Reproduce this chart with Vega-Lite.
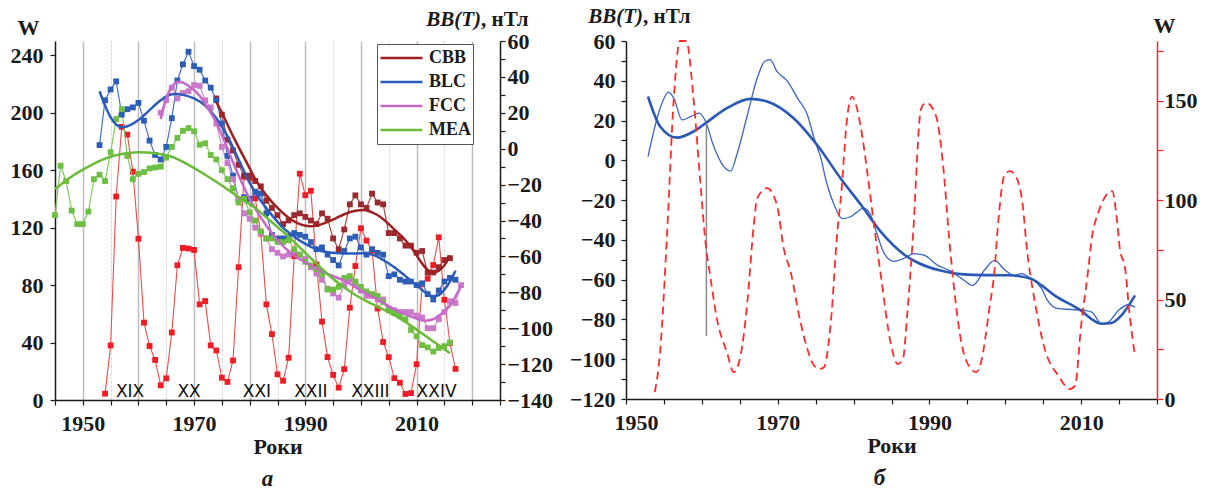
{
  "$schema": "https://vega.github.io/schema/vega-lite/v6.json",
  "autosize": {"type": "pad"},
  "padding": {"left": 10, "top": 6, "right": 5, "bottom": 2},
  "background": "white",
  "spacing": 126,
  "bounds": "flush",
  "datasets": {
    "ss": [
      {"year":1954,"w":4.4},{"year":1955,"w":38.0},{"year":1956,"w":141.7},{"year":1957,"w":190.2},{"year":1958,"w":184.8},{"year":1959,"w":159.0},{"year":1960,"w":112.3},{"year":1961,"w":53.9},{"year":1962,"w":37.6},{"year":1963,"w":27.9},{"year":1964,"w":10.2},{"year":1965,"w":15.1},{"year":1966,"w":47.0},{"year":1967,"w":93.8},{"year":1968,"w":105.9},{"year":1969,"w":105.5},{"year":1970,"w":104.5},{"year":1971,"w":66.6},{"year":1972,"w":68.9},{"year":1973,"w":38.0},{"year":1974,"w":34.5},{"year":1975,"w":15.5},{"year":1976,"w":12.6},{"year":1977,"w":27.5},{"year":1978,"w":92.5},{"year":1979,"w":155.4},{"year":1980,"w":154.6},{"year":1981,"w":140.4},{"year":1982,"w":115.9},{"year":1983,"w":66.6},{"year":1984,"w":45.9},{"year":1985,"w":17.9},{"year":1986,"w":13.4},{"year":1987,"w":29.4},{"year":1988,"w":100.2},{"year":1989,"w":157.6},{"year":1990,"w":142.6},{"year":1991,"w":145.7},{"year":1992,"w":94.3},{"year":1993,"w":54.6},{"year":1994,"w":29.9},{"year":1995,"w":17.5},{"year":1996,"w":8.6},{"year":1997,"w":21.5},{"year":1998,"w":64.3},{"year":1999,"w":93.3},{"year":2000,"w":119.6},{"year":2001,"w":111.0},{"year":2002,"w":104.0},{"year":2003,"w":63.7},{"year":2004,"w":40.4},{"year":2005,"w":29.8},{"year":2006,"w":15.2},{"year":2007,"w":12.0},{"year":2008,"w":4.2},{"year":2009,"w":4.8},{"year":2010,"w":24.9},{"year":2011,"w":80.8},{"year":2012,"w":84.5},{"year":2013,"w":94.0},{"year":2014,"w":113.3},{"year":2015,"w":69.8},{"year":2016,"w":39.8},{"year":2017,"w":21.7}
    ],
    "cyc": [
      {"c":"XIX","year":1958.5},{"c":"XX","year":1969.1},{"c":"XXI","year":1981.3},{"c":"XXII","year":1991.0},{"c":"XXIII","year":2001.7},{"c":"XXIV","year":2013.6}
    ],
    "obs": [
      {"year":1974,"s":"CBB","v":28},{"year":1975,"s":"CBB","v":19},{"year":1976,"s":"CBB","v":5},{"year":1977,"s":"CBB","v":-1},{"year":1978,"s":"CBB","v":-9},{"year":1979,"s":"CBB","v":-15},{"year":1980,"s":"CBB","v":-15},{"year":1981,"s":"CBB","v":-18},{"year":1982,"s":"CBB","v":-21},{"year":1983,"s":"CBB","v":-29},{"year":1984,"s":"CBB","v":-33},{"year":1985,"s":"CBB","v":-37},{"year":1986,"s":"CBB","v":-42},{"year":1987,"s":"CBB","v":-40},{"year":1988,"s":"CBB","v":-37},{"year":1989,"s":"CBB","v":-36},{"year":1990,"s":"CBB","v":-38},{"year":1991,"s":"CBB","v":-40},{"year":1992,"s":"CBB","v":-42},{"year":1993,"s":"CBB","v":-36},{"year":1994,"s":"CBB","v":-39},{"year":1995,"s":"CBB","v":-50},{"year":1996,"s":"CBB","v":-56},{"year":1997,"s":"CBB","v":-45},{"year":1998,"s":"CBB","v":-31},{"year":1999,"s":"CBB","v":-26},{"year":2000,"s":"CBB","v":-31},{"year":2001,"s":"CBB","v":-33},{"year":2002,"s":"CBB","v":-25},{"year":2003,"s":"CBB","v":-30},{"year":2004,"s":"CBB","v":-31},{"year":2005,"s":"CBB","v":-47},{"year":2006,"s":"CBB","v":-47},{"year":2007,"s":"CBB","v":-50},{"year":2008,"s":"CBB","v":-54},{"year":2009,"s":"CBB","v":-54},{"year":2010,"s":"CBB","v":-58},{"year":2011,"s":"CBB","v":-57},{"year":2012,"s":"CBB","v":-69},{"year":2013,"s":"CBB","v":-69},{"year":2014,"s":"CBB","v":-66},{"year":2015,"s":"CBB","v":-62},{"year":2016,"s":"CBB","v":-61},
      {"year":1953,"s":"BLC","v":2},{"year":1954,"s":"BLC","v":27},{"year":1955,"s":"BLC","v":33},{"year":1956,"s":"BLC","v":37.5},{"year":1957,"s":"BLC","v":19},{"year":1958,"s":"BLC","v":22},{"year":1959,"s":"BLC","v":23},{"year":1960,"s":"BLC","v":25.5},{"year":1961,"s":"BLC","v":15.6},{"year":1962,"s":"BLC","v":4.5},{"year":1963,"s":"BLC","v":-3.5},{"year":1964,"s":"BLC","v":-6},{"year":1965,"s":"BLC","v":1},{"year":1966,"s":"BLC","v":17},{"year":1967,"s":"BLC","v":38},{"year":1968,"s":"BLC","v":47},{"year":1969,"s":"BLC","v":54},{"year":1970,"s":"BLC","v":46},{"year":1971,"s":"BLC","v":44},{"year":1972,"s":"BLC","v":38},{"year":1973,"s":"BLC","v":34},{"year":1974,"s":"BLC","v":27},{"year":1975,"s":"BLC","v":14},{"year":1976,"s":"BLC","v":-4},{"year":1977,"s":"BLC","v":-15},{"year":1978,"s":"BLC","v":-28},{"year":1979,"s":"BLC","v":-27},{"year":1980,"s":"BLC","v":-28},{"year":1981,"s":"BLC","v":-24},{"year":1982,"s":"BLC","v":-25},{"year":1983,"s":"BLC","v":-36},{"year":1984,"s":"BLC","v":-48},{"year":1985,"s":"BLC","v":-50},{"year":1986,"s":"BLC","v":-50},{"year":1987,"s":"BLC","v":-49},{"year":1988,"s":"BLC","v":-47},{"year":1989,"s":"BLC","v":-48},{"year":1990,"s":"BLC","v":-49},{"year":1991,"s":"BLC","v":-52},{"year":1992,"s":"BLC","v":-56},{"year":1993,"s":"BLC","v":-55},{"year":1994,"s":"BLC","v":-59},{"year":1995,"s":"BLC","v":-62},{"year":1996,"s":"BLC","v":-65},{"year":1997,"s":"BLC","v":-57},{"year":1998,"s":"BLC","v":-50},{"year":1999,"s":"BLC","v":-49},{"year":2000,"s":"BLC","v":-55},{"year":2001,"s":"BLC","v":-59},{"year":2002,"s":"BLC","v":-56},{"year":2003,"s":"BLC","v":-58},{"year":2004,"s":"BLC","v":-59},{"year":2005,"s":"BLC","v":-71},{"year":2006,"s":"BLC","v":-70},{"year":2007,"s":"BLC","v":-73},{"year":2008,"s":"BLC","v":-74},{"year":2009,"s":"BLC","v":-74},{"year":2010,"s":"BLC","v":-76},{"year":2011,"s":"BLC","v":-75},{"year":2012,"s":"BLC","v":-81},{"year":2013,"s":"BLC","v":-84},{"year":2014,"s":"BLC","v":-79},{"year":2015,"s":"BLC","v":-74},{"year":2016,"s":"BLC","v":-72},{"year":2017,"s":"BLC","v":-73},
      {"year":1964,"s":"FCC","v":20},{"year":1965,"s":"FCC","v":27},{"year":1966,"s":"FCC","v":34},{"year":1967,"s":"FCC","v":28},{"year":1968,"s":"FCC","v":31},{"year":1969,"s":"FCC","v":32},{"year":1970,"s":"FCC","v":35.5},{"year":1971,"s":"FCC","v":35},{"year":1972,"s":"FCC","v":27},{"year":1973,"s":"FCC","v":23},{"year":1974,"s":"FCC","v":14},{"year":1975,"s":"FCC","v":1},{"year":1976,"s":"FCC","v":-8},{"year":1977,"s":"FCC","v":-17},{"year":1978,"s":"FCC","v":-28},{"year":1979,"s":"FCC","v":-36},{"year":1980,"s":"FCC","v":-39},{"year":1981,"s":"FCC","v":-44},{"year":1982,"s":"FCC","v":-47},{"year":1983,"s":"FCC","v":-50},{"year":1984,"s":"FCC","v":-56},{"year":1985,"s":"FCC","v":-58},{"year":1986,"s":"FCC","v":-60},{"year":1987,"s":"FCC","v":-59},{"year":1988,"s":"FCC","v":-57},{"year":1989,"s":"FCC","v":-59},{"year":1990,"s":"FCC","v":-61.5},{"year":1991,"s":"FCC","v":-66},{"year":1992,"s":"FCC","v":-69.5},{"year":1993,"s":"FCC","v":-73},{"year":1994,"s":"FCC","v":-78},{"year":1995,"s":"FCC","v":-80.6},{"year":1996,"s":"FCC","v":-83},{"year":1997,"s":"FCC","v":-76},{"year":1998,"s":"FCC","v":-73},{"year":1999,"s":"FCC","v":-75},{"year":2000,"s":"FCC","v":-79},{"year":2001,"s":"FCC","v":-82},{"year":2002,"s":"FCC","v":-82},{"year":2003,"s":"FCC","v":-84},{"year":2004,"s":"FCC","v":-84},{"year":2005,"s":"FCC","v":-89},{"year":2006,"s":"FCC","v":-90},{"year":2007,"s":"FCC","v":-91},{"year":2008,"s":"FCC","v":-91},{"year":2009,"s":"FCC","v":-91},{"year":2010,"s":"FCC","v":-93},{"year":2011,"s":"FCC","v":-94},{"year":2012,"s":"FCC","v":-100},{"year":2013,"s":"FCC","v":-100},{"year":2014,"s":"FCC","v":-95},{"year":2015,"s":"FCC","v":-91},{"year":2016,"s":"FCC","v":-85},{"year":2017,"s":"FCC","v":-86},{"year":2018,"s":"FCC","v":-76},
      {"year":1945,"s":"MEA","v":-37},{"year":1946,"s":"MEA","v":-9.5},{"year":1947,"s":"MEA","v":-18},{"year":1948,"s":"MEA","v":-34.5},{"year":1949,"s":"MEA","v":-42},{"year":1950,"s":"MEA","v":-42},{"year":1951,"s":"MEA","v":-35},{"year":1952,"s":"MEA","v":-17},{"year":1953,"s":"MEA","v":-14.5},{"year":1954,"s":"MEA","v":-18},{"year":1955,"s":"MEA","v":-2},{"year":1956,"s":"MEA","v":16.5},{"year":1957,"s":"MEA","v":22},{"year":1958,"s":"MEA","v":-4},{"year":1959,"s":"MEA","v":-17},{"year":1960,"s":"MEA","v":-14},{"year":1961,"s":"MEA","v":-13},{"year":1962,"s":"MEA","v":-11},{"year":1963,"s":"MEA","v":-10.5},{"year":1964,"s":"MEA","v":-10},{"year":1965,"s":"MEA","v":-5},{"year":1966,"s":"MEA","v":1},{"year":1967,"s":"MEA","v":6},{"year":1968,"s":"MEA","v":10},{"year":1969,"s":"MEA","v":11.5},{"year":1970,"s":"MEA","v":9.7},{"year":1971,"s":"MEA","v":2.2},{"year":1972,"s":"MEA","v":3},{"year":1973,"s":"MEA","v":-3.5},{"year":1974,"s":"MEA","v":-6},{"year":1975,"s":"MEA","v":-12},{"year":1976,"s":"MEA","v":-17},{"year":1977,"s":"MEA","v":-22},{"year":1978,"s":"MEA","v":-30},{"year":1979,"s":"MEA","v":-28},{"year":1980,"s":"MEA","v":-35.5},{"year":1981,"s":"MEA","v":-40},{"year":1982,"s":"MEA","v":-46},{"year":1983,"s":"MEA","v":-50},{"year":1984,"s":"MEA","v":-50},{"year":1985,"s":"MEA","v":-52},{"year":1986,"s":"MEA","v":-52},{"year":1987,"s":"MEA","v":-51},{"year":1988,"s":"MEA","v":-56},{"year":1989,"s":"MEA","v":-59},{"year":1990,"s":"MEA","v":-63},{"year":1991,"s":"MEA","v":-65},{"year":1992,"s":"MEA","v":-67},{"year":1993,"s":"MEA","v":-70},{"year":1994,"s":"MEA","v":-78.5},{"year":1995,"s":"MEA","v":-78.5},{"year":1996,"s":"MEA","v":-77},{"year":1997,"s":"MEA","v":-72},{"year":1998,"s":"MEA","v":-71},{"year":1999,"s":"MEA","v":-74},{"year":2000,"s":"MEA","v":-77},{"year":2001,"s":"MEA","v":-79.5},{"year":2002,"s":"MEA","v":-81},{"year":2003,"s":"MEA","v":-82},{"year":2004,"s":"MEA","v":-85.5},{"year":2005,"s":"MEA","v":-90},{"year":2006,"s":"MEA","v":-91.5},{"year":2007,"s":"MEA","v":-93},{"year":2008,"s":"MEA","v":-95},{"year":2009,"s":"MEA","v":-101},{"year":2010,"s":"MEA","v":-104.5},{"year":2011,"s":"MEA","v":-109.4},{"year":2012,"s":"MEA","v":-110.7},{"year":2013,"s":"MEA","v":-113},{"year":2014,"s":"MEA","v":-111},{"year":2015,"s":"MEA","v":-110},{"year":2016,"s":"MEA","v":-108}
    ],
    "sm": [
      {"year":1974,"s":"CBB","v":26},{"year":1975,"s":"CBB","v":20},{"year":1977,"s":"CBB","v":7},{"year":1979,"s":"CBB","v":-5},{"year":1980,"s":"CBB","v":-11},{"year":1981,"s":"CBB","v":-17},{"year":1983,"s":"CBB","v":-26},{"year":1985,"s":"CBB","v":-33},{"year":1987,"s":"CBB","v":-38.5},{"year":1989,"s":"CBB","v":-42},{"year":1991,"s":"CBB","v":-43.2},{"year":1993,"s":"CBB","v":-42},{"year":1995,"s":"CBB","v":-39.5},{"year":1997,"s":"CBB","v":-36.5},{"year":1999,"s":"CBB","v":-34.6},{"year":2000.5,"s":"CBB","v":-34.2},{"year":2002,"s":"CBB","v":-35.5},{"year":2003.5,"s":"CBB","v":-38},{"year":2005,"s":"CBB","v":-42},{"year":2006.5,"s":"CBB","v":-46.5},{"year":2008,"s":"CBB","v":-51},{"year":2009.5,"s":"CBB","v":-57},{"year":2011,"s":"CBB","v":-64},{"year":2012,"s":"CBB","v":-67.5},{"year":2013,"s":"CBB","v":-69},{"year":2014,"s":"CBB","v":-68},{"year":2015,"s":"CBB","v":-65},{"year":2016,"s":"CBB","v":-59.5},
      {"year":1953,"s":"BLC","v":32},{"year":1954,"s":"BLC","v":24},{"year":1955,"s":"BLC","v":17.5},{"year":1956,"s":"BLC","v":13.5},{"year":1957,"s":"BLC","v":12},{"year":1958,"s":"BLC","v":12.5},{"year":1960,"s":"BLC","v":16},{"year":1962,"s":"BLC","v":21.5},{"year":1964,"s":"BLC","v":27},{"year":1966,"s":"BLC","v":30.3},{"year":1967,"s":"BLC","v":30.5},{"year":1968,"s":"BLC","v":30},{"year":1970,"s":"BLC","v":28},{"year":1972,"s":"BLC","v":24},{"year":1974,"s":"BLC","v":17},{"year":1976,"s":"BLC","v":7},{"year":1978,"s":"BLC","v":-6},{"year":1980,"s":"BLC","v":-19},{"year":1982,"s":"BLC","v":-29},{"year":1984,"s":"BLC","v":-37},{"year":1986,"s":"BLC","v":-44},{"year":1988,"s":"BLC","v":-49},{"year":1990,"s":"BLC","v":-53},{"year":1992,"s":"BLC","v":-56},{"year":1994,"s":"BLC","v":-57.7},{"year":1996,"s":"BLC","v":-58.2},{"year":1998,"s":"BLC","v":-58.4},{"year":2000,"s":"BLC","v":-58.3},{"year":2002,"s":"BLC","v":-59},{"year":2004,"s":"BLC","v":-62},{"year":2006,"s":"BLC","v":-66},{"year":2008,"s":"BLC","v":-71},{"year":2010,"s":"BLC","v":-76},{"year":2012,"s":"BLC","v":-81},{"year":2013,"s":"BLC","v":-82.2},{"year":2014,"s":"BLC","v":-81.5},{"year":2015,"s":"BLC","v":-78.5},{"year":2016,"s":"BLC","v":-74},{"year":2017,"s":"BLC","v":-68},
      {"year":1964,"s":"FCC","v":16.5},{"year":1965,"s":"FCC","v":28},{"year":1966,"s":"FCC","v":34.5},{"year":1967.4,"s":"FCC","v":37.3},{"year":1969,"s":"FCC","v":35},{"year":1971,"s":"FCC","v":29.5},{"year":1972.5,"s":"FCC","v":22.5},{"year":1974,"s":"FCC","v":14.7},{"year":1977,"s":"FCC","v":-7.6},{"year":1980,"s":"FCC","v":-28},{"year":1983,"s":"FCC","v":-42.9},{"year":1985,"s":"FCC","v":-51},{"year":1988,"s":"FCC","v":-59.5},{"year":1991,"s":"FCC","v":-65},{"year":1994,"s":"FCC","v":-69.8},{"year":1997,"s":"FCC","v":-73.5},{"year":2000,"s":"FCC","v":-79},{"year":2003,"s":"FCC","v":-84},{"year":2006,"s":"FCC","v":-89.5},{"year":2009,"s":"FCC","v":-93.5},{"year":2011.5,"s":"FCC","v":-95.8},{"year":2013,"s":"FCC","v":-95},{"year":2014,"s":"FCC","v":-93},{"year":2016,"s":"FCC","v":-87.5},{"year":2018,"s":"FCC","v":-76.3},
      {"year":1945,"s":"MEA","v":-22.5},{"year":1948,"s":"MEA","v":-15.5},{"year":1951,"s":"MEA","v":-10},{"year":1954,"s":"MEA","v":-5.5},{"year":1957,"s":"MEA","v":-3},{"year":1960,"s":"MEA","v":-2},{"year":1963,"s":"MEA","v":-2.5},{"year":1966,"s":"MEA","v":-4.5},{"year":1969,"s":"MEA","v":-9},{"year":1972,"s":"MEA","v":-14.5},{"year":1975,"s":"MEA","v":-20.5},{"year":1978,"s":"MEA","v":-27},{"year":1981,"s":"MEA","v":-33},{"year":1984,"s":"MEA","v":-41},{"year":1987,"s":"MEA","v":-49},{"year":1990,"s":"MEA","v":-58},{"year":1993,"s":"MEA","v":-67},{"year":1996,"s":"MEA","v":-75},{"year":1999,"s":"MEA","v":-81.5},{"year":2002,"s":"MEA","v":-86.5},{"year":2005,"s":"MEA","v":-91},{"year":2008,"s":"MEA","v":-96.5},{"year":2011,"s":"MEA","v":-103},{"year":2014,"s":"MEA","v":-109.5},{"year":2016,"s":"MEA","v":-114}
    ],
    "rw": [
      {"year":1953.8,"w":3.5},{"year":1954.5,"w":23.7},{"year":1955.4,"w":82},{"year":1956.3,"w":151},{"year":1957.1,"w":180},{"year":1957.95,"w":180},{"year":1958.9,"w":151},{"year":1959.8,"w":109},{"year":1960.5,"w":78},{"year":1961.1,"w":62},{"year":1962,"w":40},{"year":1963.3,"w":23.5},{"year":1964.2,"w":13.5},{"year":1965.1,"w":21.8},{"year":1966,"w":48.8},{"year":1966.8,"w":85.7},{"year":1967.3,"w":100.9},{"year":1968.6,"w":106},{"year":1969.9,"w":97.5},{"year":1970.8,"w":75.6},{"year":1971.7,"w":64},{"year":1973,"w":38.7},{"year":1974.8,"w":16.8},{"year":1975.4,"w":15.1},{"year":1976.1,"w":16},{"year":1977,"w":38.7},{"year":1977.9,"w":85.7},{"year":1978.3,"w":100},{"year":1979.2,"w":142.9},{"year":1979.8,"w":152},{"year":1980.9,"w":137.8},{"year":1981.8,"w":114.3},{"year":1982.7,"w":87.4},{"year":1983.6,"w":62},{"year":1984.9,"w":28},{"year":1985.8,"w":17.6},{"year":1986.5,"w":20},{"year":1987.1,"w":43.7},{"year":1987.8,"w":80},{"year":1988.9,"w":146},{"year":1989.6,"w":149},{"year":1990.9,"w":142},{"year":1991.8,"w":117.6},{"year":1992.7,"w":76.5},{"year":1994.2,"w":28.6},{"year":1995.5,"w":15.1},{"year":1996.2,"w":13.5},{"year":1996.8,"w":18.5},{"year":1997.9,"w":45.4},{"year":1998.6,"w":65.6},{"year":1999,"w":85.7},{"year":1999.9,"w":112.6},{"year":2000.6,"w":114.6},{"year":2001.5,"w":111},{"year":2002.3,"w":97.5},{"year":2002.8,"w":77.3},{"year":2003.9,"w":48.8},{"year":2005.2,"w":25.2},{"year":2007,"w":11.7},{"year":2008.5,"w":5},{"year":2009.2,"w":6.7},{"year":2010,"w":37},{"year":2010.9,"w":63.9},{"year":2011.4,"w":80.7},{"year":2012.3,"w":94.1},{"year":2014.1,"w":104.5},{"year":2014.7,"w":90.8},{"year":2015.1,"w":75.6},{"year":2015.8,"w":65.6},{"year":2016.4,"w":42},{"year":2017.1,"w":21.8}
    ],
    "rthin": [
      {"year":1952.9,"v":1.9},{"year":1954.5,"v":26.2},{"year":1955.6,"v":34.3},{"year":1956.3,"v":31.3},{"year":1957.4,"v":20.3},{"year":1958.5,"v":22},{"year":1959.6,"v":23.7},{"year":1960.5,"v":19.5},{"year":1961.5,"v":7.7},{"year":1962.9,"v":-3.2},{"year":1963.8,"v":-5.4},{"year":1964.6,"v":2.7},{"year":1966,"v":22.8},{"year":1967.3,"v":41.4},{"year":1968.3,"v":49.8},{"year":1969,"v":50.6},{"year":1969.9,"v":44.7},{"year":1971.3,"v":39.7},{"year":1972.6,"v":31.3},{"year":1973.9,"v":23},{"year":1974.8,"v":11.1},{"year":1975.7,"v":1},{"year":1976.3,"v":-9},{"year":1977.4,"v":-22},{"year":1978.5,"v":-29.3},{"year":1979.5,"v":-28.5},{"year":1980.5,"v":-25.9},{"year":1981.3,"v":-24},{"year":1982.2,"v":-27},{"year":1983,"v":-36},{"year":1984,"v":-46.5},{"year":1985.3,"v":-50.8},{"year":1986.5,"v":-49.5},{"year":1988,"v":-46.9},{"year":1989.3,"v":-47.7},{"year":1991.1,"v":-52.8},{"year":1992.6,"v":-55.3},{"year":1994.6,"v":-60.4},{"year":1995.7,"v":-62.9},{"year":1997.3,"v":-55},{"year":1998.6,"v":-50.3},{"year":1999.9,"v":-55},{"year":2001.2,"v":-57.8},{"year":2002.1,"v":-57},{"year":2003.4,"v":-59.5},{"year":2004.8,"v":-64.5},{"year":2005.5,"v":-70},{"year":2007,"v":-74.6},{"year":2008.7,"v":-75},{"year":2010.5,"v":-75.5},{"year":2011.4,"v":-76.3},{"year":2012.7,"v":-82.2},{"year":2013.6,"v":-81.3},{"year":2014.9,"v":-75.5},{"year":2016.2,"v":-72.6},{"year":2017.1,"v":-73.8}
    ],
    "rthick": [
      {"year":1952.9,"v":32.1},{"year":1954.5,"v":17},{"year":1956.7,"v":11.4},{"year":1958.9,"v":14.5},{"year":1960.5,"v":18.7},{"year":1963.3,"v":26.2},{"year":1966.4,"v":30.9},{"year":1968.6,"v":29.6},{"year":1972.1,"v":21.2},{"year":1975.2,"v":7.7},{"year":1978.3,"v":-9.1},{"year":1981,"v":-22.5},{"year":1983.6,"v":-36},{"year":1986.7,"v":-47.5},{"year":1991.3,"v":-55.3},{"year":1995.7,"v":-57.6},{"year":2000.5,"v":-57.8},{"year":2003.4,"v":-59.5},{"year":2004.8,"v":-62.9},{"year":2006.5,"v":-67.9},{"year":2009.6,"v":-74.6},{"year":2012.7,"v":-82.2},{"year":2014,"v":-81.8},{"year":2015.3,"v":-78},{"year":2017.1,"v":-67.9}
    ],
    "rrule": [{"year":1960.6,"v1":18.7,"v2":-88.3}]
  },
  "hconcat": [
    {
      "width": 445,
      "height": 359,
      "title": {"text": "а", "orient": "bottom", "anchor": "middle", "font": "Liberation Serif", "fontStyle": "italic", "fontWeight": "bold", "fontSize": 23, "offset": 11, "dx": -10, "color": "#1a1a1a"},
      "layer": [
        {
          "layer": [
            {
              "data": {"name": "ss"},
              "mark": {"type": "line", "color": "#f04a4a", "strokeWidth": 1.1},
              "encoding": {
                "x": {"field": "year", "type": "quantitative", "scale": {"domain": [1945, 2025], "nice": false, "zero": false},
                  "axis": {"orient": "bottom", "values": [1945,1950,1955,1960,1965,1970,1975,1980,1985,1990,1995,2000,2005,2010,2015,2020,2025],
                    "labels": false, "ticks": true, "tickSize": 5, "domain": true, "grid": false, "title": null}},
                "y": {"field": "w", "type": "quantitative", "scale": {"domain": [0, 250], "nice": false},
                  "axis": {"orient": "left", "values": [0,10,20,30,40,50,60,70,80,90,100,110,120,130,140,150,160,170,180,190,200,210,220,230,240,250],
                    "labelExpr": "datum.value % 40 == 0 ? datum.label : ''", "labelOverlap": false, "labelFlush": false, "tickSize": 5, "labelPadding": 7,
                    "title": "W", "titleAngle": 0, "titleX": -27, "titleY": -14, "titleAlign": "center", "titleBaseline": "middle"}}
              }
            },
            {
              "data": {"name": "ss"},
              "mark": {"type": "square", "size": 34, "color": "#ee1c25", "opacity": 1},
              "encoding": {
                "x": {"field": "year", "type": "quantitative",
                  "axis": {"orient": "bottom", "values": [1950, 1970, 1990, 2010], "format": "d", "labels": true, "ticks": false, "domain": false, "grid": false,
                    "labelPadding": 13, "labelOverlap": false, "labelFlush": false, "title": "Роки", "titlePadding": 2}},
                "y": {"field": "w", "type": "quantitative"}
              }
            },
            {
              "data": {"name": "cyc"},
              "mark": {"type": "text", "font": "DejaVu Sans", "fontSize": 17, "align": "center", "baseline": "alphabetic", "color": "#111111"},
              "encoding": {
                "x": {"field": "year", "type": "quantitative",
                  "axis": {"orient": "bottom", "values": [1950,1960,1970,1980,1990,2000,2010,2020], "grid": true, "gridColor": "#bdbdbd", "gridWidth": 1.5,
                    "labels": false, "ticks": false, "domain": false, "title": null}},
                "y": {"datum": 2, "type": "quantitative"},
                "text": {"field": "c"}
              }
            }
          ],
          "resolve": {"axis": {"x": "independent"}}
        },
        {
          "layer": [
            {
              "data": {"name": "obs"},
              "mark": {"type": "line", "strokeWidth": 1.2},
              "encoding": {
                "x": {"field": "year", "type": "quantitative",
                  "axis": {"orient": "bottom", "values": [1955,1965,1975,1985,1995,2005,2015], "grid": true, "gridColor": "#cfcfcf", "gridWidth": 1, "gridDash": [2, 2],
                    "labels": false, "ticks": false, "domain": false, "title": null}},
                "y": {"field": "v", "type": "quantitative", "scale": {"domain": [-140, 60], "nice": false},
                  "axis": {"orient": "right", "values": [-140,-130,-120,-110,-100,-90,-80,-70,-60,-50,-40,-30,-20,-10,0,10,20,30,40,50,60],
                    "labels": false, "ticks": true, "tickSize": 5, "domain": true, "title": null}},
                "stroke": {"field": "s", "type": "nominal", "scale": {"domain": ["MEA","FCC","BLC","CBB"], "range": ["#82c95e","#d38fd3","#4470c4","#a84444"]}, "legend": null}
              }
            },
            {
              "data": {"name": "obs"},
              "mark": {"type": "square", "size": 34, "opacity": 1, "filled": true},
              "encoding": {
                "x": {"field": "year", "type": "quantitative", "axis": null},
                "y": {"field": "v", "type": "quantitative",
                  "axis": {"orient": "right", "values": [-140,-120,-100,-80,-60,-40,-20,0,20,40,60], "labels": true, "ticks": false, "domain": false,
                    "labelPadding": 7, "labelOverlap": false, "labelFlush": false, "title": null}},
                "fill": {"field": "s", "type": "nominal", "scale": {"domain": ["BLC","CBB","MEA","FCC"], "range": ["#2d5db5","#9a2a2e","#6cbf42","#c97ac9"]}, "legend": null}
              }
            },
            {
              "data": {"name": "sm"},
              "mark": {"type": "line", "strokeWidth": 2.5, "interpolate": "monotone"},
              "encoding": {
                "x": {"field": "year", "type": "quantitative", "axis": null},
                "y": {"field": "v", "type": "quantitative", "axis": null},
                "color": {"field": "s", "type": "nominal", "scale": {"domain": ["CBB","BLC","FCC","MEA"], "range": ["#9e1f22","#2b5bb8","#c768c9","#6abb38"]},
                  "legend": {"orient": "none", "legendX": 322, "legendY": 3, "title": null, "symbolType": "stroke", "symbolSize": 1764, "symbolStrokeWidth": 2.5,
                    "labelFont": "Liberation Serif", "labelFontWeight": "bold", "labelFontSize": 18, "labelColor": "#1a1a1a", "labelOffset": 5,
                    "clipHeight": 24, "strokeColor": "#555555", "fillColor": "#ffffff", "padding": 2, "rowPadding": 0}}
              }
            },
            {
              "data": {"values": [{"t": "BB(T)"}]},
              "mark": {"type": "text", "font": "Liberation Serif", "fontWeight": "bold", "fontStyle": "italic", "fontSize": 21, "align": "right", "baseline": "alphabetic", "color": "#1a1a1a"},
              "encoding": {"x": {"datum": 2021.6, "type": "quantitative", "axis": null}, "y": {"datum": 68.4, "type": "quantitative", "axis": null}, "text": {"field": "t"}}
            },
            {
              "data": {"values": [{"t": ", нТл"}]},
              "mark": {"type": "text", "font": "Liberation Serif", "fontWeight": "bold", "fontSize": 21, "align": "left", "baseline": "alphabetic", "color": "#1a1a1a"},
              "encoding": {"x": {"datum": 2021.6, "type": "quantitative", "axis": null}, "y": {"datum": 68.4, "type": "quantitative", "axis": null}, "text": {"field": "t"}}
            }
          ],
          "resolve": {"axis": {"x": "independent", "y": "independent"}}
        }
      ],
      "resolve": {"scale": {"y": "independent"}, "axis": {"x": "independent"}}
    },
    {
      "width": 531,
      "height": 358,
      "title": {"text": "б", "orient": "bottom", "anchor": "middle", "font": "Liberation Serif", "fontStyle": "italic", "fontWeight": "bold", "fontSize": 23, "offset": 11, "dx": -12, "color": "#1a1a1a"},
      "layer": [
        {
          "layer": [
            {
              "data": {"name": "rthin"},
              "mark": {"type": "line", "color": "#3a66c0", "strokeWidth": 1.3, "interpolate": "monotone"},
              "encoding": {
                "x": {"field": "year", "type": "quantitative", "scale": {"domain": [1950, 2020], "nice": false, "zero": false},
                  "axis": {"orient": "bottom", "values": [1950,1955,1960,1965,1970,1975,1980,1985,1990,1995,2000,2005,2010,2015,2020],
                    "labels": false, "ticks": true, "tickSize": 5, "domain": true, "grid": false, "title": null}},
                "y": {"field": "v", "type": "quantitative", "scale": {"domain": [-120, 60], "nice": false},
                  "axis": {"orient": "left", "values": [-120,-110,-100,-90,-80,-70,-60,-50,-40,-30,-20,-10,0,10,20,30,40,50,60],
                    "labels": false, "ticks": true, "tickSize": 5, "domain": true, "title": null}}
              }
            },
            {
              "data": {"name": "rthick"},
              "mark": {"type": "line", "color": "#2a58b5", "strokeWidth": 2.6, "interpolate": "monotone"},
              "encoding": {
                "x": {"field": "year", "type": "quantitative",
                  "axis": {"orient": "bottom", "values": [1950, 1970, 1990, 2010], "format": "d", "labels": true, "ticks": false, "domain": false, "grid": false,
                    "labelPadding": 13, "labelOverlap": false, "labelFlush": 1, "labelFlushOffset": 12, "title": "Роки", "titlePadding": 2}},
                "y": {"field": "v", "type": "quantitative",
                  "axis": {"orient": "left", "values": [-120,-100,-80,-60,-40,-20,0,20,40,60], "labels": true, "ticks": false, "domain": false,
                    "labelPadding": 11, "labelOverlap": false, "labelFlush": false, "title": null}}
              }
            },
            {
              "data": {"name": "rrule"},
              "mark": {"type": "rule", "color": "#8a8a8a", "strokeWidth": 1.5},
              "encoding": {"x": {"field": "year", "type": "quantitative", "axis": null}, "y": {"field": "v1", "type": "quantitative", "axis": null}, "y2": {"field": "v2"}}
            },
            {
              "data": {"values": [{"t": "BB(T)"}]},
              "mark": {"type": "text", "font": "Liberation Serif", "fontWeight": "bold", "fontStyle": "italic", "fontSize": 21, "align": "right", "baseline": "alphabetic", "color": "#1a1a1a"},
              "encoding": {"x": {"datum": 1952.25, "type": "quantitative", "axis": null}, "y": {"datum": 69, "type": "quantitative", "axis": null}, "text": {"field": "t"}}
            },
            {
              "data": {"values": [{"t": ", нТл"}]},
              "mark": {"type": "text", "font": "Liberation Serif", "fontWeight": "bold", "fontSize": 21, "align": "left", "baseline": "alphabetic", "color": "#1a1a1a"},
              "encoding": {"x": {"datum": 1952.25, "type": "quantitative", "axis": null}, "y": {"datum": 69, "type": "quantitative", "axis": null}, "text": {"field": "t"}}
            }
          ],
          "resolve": {"axis": {"x": "independent", "y": "independent"}}
        },
        {
          "layer": [
            {
              "data": {"name": "rw"},
              "mark": {"type": "line", "color": "#ff2a2a", "strokeWidth": 1.8, "strokeDash": [8, 5], "interpolate": "monotone"},
              "encoding": {
                "x": {"field": "year", "type": "quantitative", "axis": null},
                "y": {"field": "w", "type": "quantitative", "scale": {"domain": [0, 180], "nice": false},
                  "axis": {"orient": "right", "values": [0,25,50,75,100,125,150,175],
                    "labelExpr": "datum.value % 50 == 0 ? datum.label : ''", "labelOverlap": false, "labelFlush": false, "tickSize": 6, "labelPadding": 1,
                    "domainColor": "#ff2020", "tickColor": "#ff2020",
                    "title": "W", "titleAngle": 0, "titleX": 7, "titleY": -16, "titleAlign": "center", "titleBaseline": "middle"}}
              }
            }
          ]
        }
      ],
      "resolve": {"scale": {"y": "independent"}, "axis": {"x": "independent"}}
    }
  ],
  "config": {
    "font": "Liberation Serif",
    "view": {"stroke": null},
    "axis": {
      "labelFont": "Liberation Serif", "labelFontWeight": "bold", "labelFontSize": 22, "labelColor": "#1a1a1a",
      "titleFont": "Liberation Serif", "titleFontWeight": "bold", "titleFontSize": 22, "titleColor": "#1a1a1a",
      "domainColor": "#1a1a1a", "domainWidth": 1.5, "tickColor": "#1a1a1a", "tickWidth": 1.2,
      "labelFlush": false, "labelOverlap": false, "grid": false
    }
  }
}
